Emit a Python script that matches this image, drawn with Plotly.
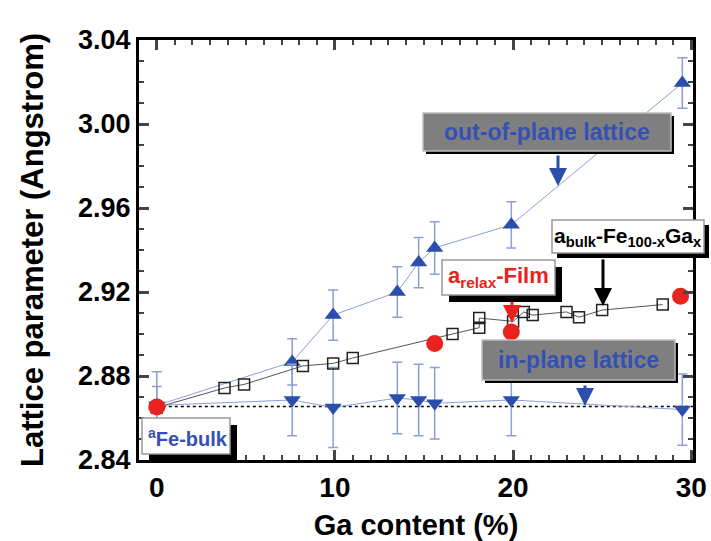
import plotly.graph_objects as go

# ---- data ----
out_x = [0, 7.6, 9.9, 13.5, 14.7, 15.6, 19.9, 29.5]
out_y = [2.866, 2.8867, 2.909, 2.920, 2.934, 2.941, 2.952, 3.0195]
out_err = [0.016, 0.011, 0.012, 0.012, 0.012, 0.0125, 0.011, 0.012]

in_x = [0, 7.6, 9.9, 13.5, 14.7, 15.6, 19.9, 29.5]
in_y = [2.866, 2.8686, 2.865, 2.8695, 2.8686, 2.867, 2.8686, 2.864]
in_err = [0.009, 0.017, 0.019, 0.017, 0.017, 0.017, 0.017, 0.017]

bulk_x = [0, 3.8, 4.9, 8.2, 9.9, 11.0, 16.6, 18.1, 18.1, 20.0, 20.6, 21.1, 23.0, 23.7, 25.0, 28.4]
bulk_y = [2.865, 2.8743, 2.876, 2.8848, 2.886, 2.8886, 2.900, 2.903, 2.9076, 2.906,
          2.9105, 2.909, 2.9105, 2.908, 2.9114, 2.914]

relax_x = [0, 15.6, 19.9, 29.4]
relax_y = [2.8652, 2.8955, 2.901, 2.918]

fe_bulk = 2.8655
x_ticks = [0, 10, 20, 30]
y_ticks = [2.84, 2.88, 2.92, 2.96, 3.00, 3.04]

BLUE = "#2b4ead"
ERR = "#8b9fd8"
RED = "#e8231d"
FONT = "Liberation Sans"

# plot area in pixels
L, R, T, B = 139, 693, 40, 460
W, H = 711, 541


def px(xp):
    return (xp - L) / (R - L)


def py(yp):
    return (B - yp) / (B - T)


fig = go.Figure()

fig.add_trace(go.Scatter(
    x=out_x, y=out_y, mode="lines+markers",
    line=dict(color=ERR, width=1),
    marker=dict(symbol="triangle-up", size=15, color=BLUE),
    error_y=dict(type="data", array=out_err, color=ERR, thickness=1.5, width=5),
    showlegend=False))

fig.add_trace(go.Scatter(
    x=in_x, y=in_y, mode="lines+markers",
    line=dict(color=ERR, width=1),
    marker=dict(symbol="triangle-down", size=15, color=BLUE),
    error_y=dict(type="data", array=in_err, color=ERR, thickness=1.5, width=5),
    showlegend=False))

fig.add_trace(go.Scatter(
    x=bulk_x, y=bulk_y, mode="lines+markers",
    line=dict(color="#555555", width=1),
    marker=dict(symbol="square-open", size=11, color="#222222", line=dict(width=1.5)),
    showlegend=False))

fig.add_trace(go.Scatter(
    x=relax_x, y=relax_y, mode="markers",
    marker=dict(symbol="circle", size=17, color=RED),
    showlegend=False))

shapes = []
# dotted Fe bulk line
shapes.append(dict(type="line", xref="x", yref="y", x0=0, x1=30.1, y0=fe_bulk, y1=fe_bulk,
                   line=dict(color="black", width=1.5, dash="dot"), layer="below"))


def box(x0, y0, x1, y1, fill, shadow=4, edge=None):
    shapes.append(dict(type="rect", xref="paper", yref="paper",
                       x0=px(x0 + shadow), x1=px(x1 + shadow), y0=py(y0 + shadow), y1=py(y1 + shadow),
                       fillcolor="black", line=dict(width=0), layer="above"))
    shapes.append(dict(type="rect", xref="paper", yref="paper",
                       x0=px(x0), x1=px(x1), y0=py(y0), y1=py(y1),
                       fillcolor=fill, line=dict(width=1.5 if edge else 0, color=edge or fill),
                       layer="above"))


box(423, 113, 671, 151, "#7f7f7f", shadow=3, edge="#bdbdbd")
box(482, 340, 675, 380, "#7f7f7f", shadow=3, edge="#bdbdbd")
box(552, 220, 704, 253, "white", shadow=5, edge="#999999")
box(442, 260, 555, 295, "white", shadow=7, edge="#999999")
box(142, 418, 230, 454, "white", shadow=7, edge="#999999")

annotations = []


def label(text, cx, cy, color, size):
    annotations.append(dict(text=text, xref="paper", yref="paper", x=px(cx), y=py(cy),
                            showarrow=False, xanchor="center", yanchor="middle",
                            font=dict(family=FONT, size=size, color=color, weight="bold")))


label("out-of-plane lattice", 547, 132, "#3550b5", 23)
label("in-plane lattice", 578, 360, "#3550b5", 23)
label("a<sub>bulk</sub>-Fe<sub>100-x</sub>Ga<sub>x</sub>", 628, 237, "black", 21)
label("a<sub>relax</sub>-Film", 498, 277, RED, 22)
label("<sup>a</sup>Fe-bulk", 188, 437, "#3550b5", 20)


def arrow(x, y_tail, y_tip, color):
    annotations.append(dict(text="", xref="paper", yref="paper", x=px(x), y=py(y_tip),
                            ax=0, ay=-(y_tip - y_tail), axref="pixel", ayref="pixel",
                            showarrow=True, arrowhead=2, arrowsize=1.2, arrowwidth=3,
                            arrowcolor=color))


arrow(558, 154, 186, BLUE)
arrow(585, 384, 406, BLUE)
arrow(603, 258, 306, "black")
arrow(512, 300, 323, RED)

fig.update_layout(
    width=W, height=H,
    margin=dict(l=L, r=W - R, t=T, b=H - B, autoexpand=False),
    paper_bgcolor="white", plot_bgcolor="white",
    shapes=shapes, annotations=annotations,
    font=dict(family=FONT, color="black"),
)

fig.update_xaxes(
    range=[-1.0, 30.1], tickvals=x_ticks, ticks="inside", ticklen=10, tickwidth=2.5,
    showline=True, linewidth=3, linecolor="black", mirror="allticks",
    showgrid=False, zeroline=False,
    minor=dict(dtick=1, tick0=0, ticklen=5, tickwidth=2, ticks="inside", showgrid=False),
    tickfont=dict(family=FONT, size=28, weight="bold"),
    title=dict(text="Ga content (%)", font=dict(family=FONT, size=29, weight="bold"), standoff=14),
)
fig.update_yaxes(
    range=[2.84, 3.04], tickvals=y_ticks, tickformat=".2f", ticks="inside", ticklen=10, tickwidth=2.5,
    showline=True, linewidth=3, linecolor="black", mirror="allticks",
    showgrid=False, zeroline=False,
    minor=dict(dtick=0.01, tick0=2.84, ticklen=5, tickwidth=2, ticks="inside", showgrid=False),
    tickfont=dict(family=FONT, size=27, weight="bold"),
    title=dict(text="Lattice parameter (Angstrom)", font=dict(family=FONT, size=31, weight="bold"), standoff=26),
)

fig.write_html("out.html", config={"displayModeBar": False},
               post_script="document.body.style.margin='0';document.body.style.overflow='hidden';")
